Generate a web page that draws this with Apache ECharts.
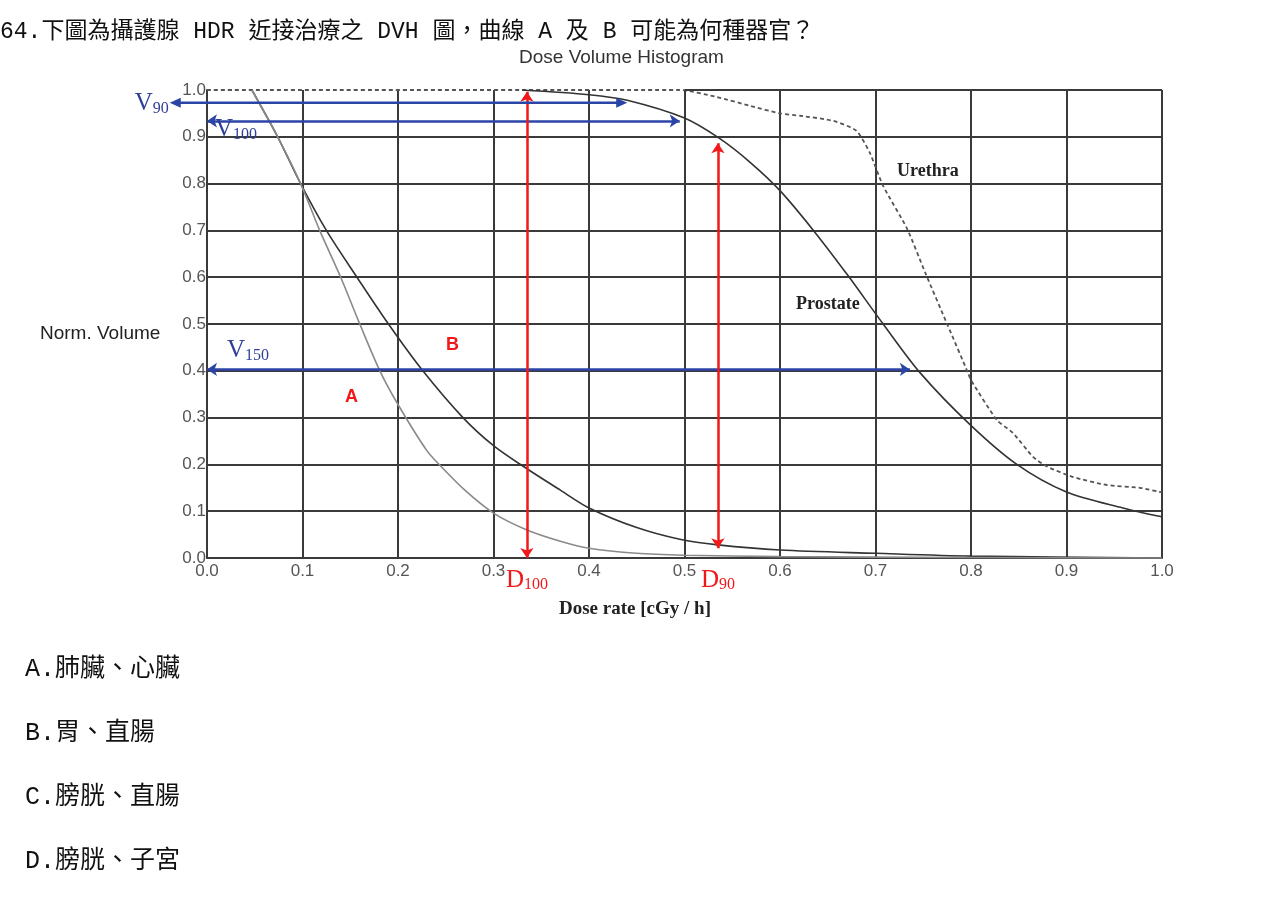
<!DOCTYPE html>
<html>
<head>
<meta charset="utf-8">
<script src="https://cdn.jsdelivr.net/npm/echarts@6/dist/echarts.min.js"></script>
<style>
  html, body { margin: 0; padding: 0; background: #fff; }
  #chart { width: 1274px; height: 898px; }
</style>
</head>
<body>
<div id="chart"></div>
<script>
// question text
const question = "64.下圖為攝護腺 HDR 近接治療之 DVH 圖，曲線 A 及 B 可能為何種器官？"
const options = ["A.肺臟、心臟", "B.胃、直腸", "C.膀胱、直腸", "D.膀胱、子宮"]

// curve A (lighter)
const doseA = [0.047, 0.074, 0.098, 0.118, 0.14, 0.16, 0.181, 0.2, 0.23, 0.244, 0.27, 0.3, 0.335, 0.37, 0.4, 0.45, 0.5, 0.6, 0.8, 1.0]
const volA = [1.0, 0.9, 0.8, 0.7, 0.6, 0.5, 0.4, 0.328, 0.23, 0.198, 0.145, 0.096, 0.06, 0.036, 0.021, 0.01, 0.006, 0.003, 0.001, 0.0]

// curve B (darker)
const doseB = [0.047, 0.074, 0.098, 0.125, 0.157, 0.19, 0.226, 0.268, 0.3, 0.331, 0.37, 0.4, 0.45, 0.495, 0.535, 0.6, 0.7, 0.8, 1.0]
const volB = [1.0, 0.9, 0.8, 0.7, 0.6, 0.5, 0.4, 0.3, 0.24, 0.196, 0.145, 0.107, 0.065, 0.04, 0.028, 0.017, 0.01, 0.004, 0.0]

// prostate
const doseP = [0.33, 0.4, 0.44, 0.5, 0.537, 0.569, 0.6, 0.635, 0.671, 0.708, 0.747, 0.799, 0.848, 0.9, 0.959, 1.0]
const volP = [1.0, 0.99, 0.978, 0.94, 0.896, 0.845, 0.785, 0.7, 0.604, 0.5, 0.395, 0.285, 0.2, 0.141, 0.107, 0.088]

// urethra (dashed)
const doseU = [0.0, 0.495, 0.534, 0.569, 0.6, 0.621, 0.656, 0.68, 0.694, 0.708, 0.733, 0.752, 0.775, 0.797, 0.8, 0.827, 0.844, 0.865, 0.88, 0.907, 0.942, 0.977, 1.0]
const volU = [1.0, 1.0, 0.985, 0.966, 0.95, 0.945, 0.934, 0.913, 0.866, 0.795, 0.704, 0.61, 0.5, 0.395, 0.38, 0.295, 0.267, 0.216, 0.195, 0.173, 0.156, 0.15, 0.14]

// annotation arrows [x1, y1, x2, y2]
const v90 = [-0.039, 0.973, 0.44, 0.973]
const v100 = [0.0, 0.934, 0.495, 0.934]
const v150 = [0.0, 0.403, 0.736, 0.403]
const d100 = [0.335, 0.0, 0.335, 0.996]
const d90 = [0.535, 0.021, 0.535, 0.886]

function zip(xs, ys) {
  return xs.map((x, i) => [x, ys[i]])
}

const cjk = "'Liberation Mono', 'Noto Sans CJK TC', sans-serif"
const blue = "#2b45a6"
const blueText = "#2e3f9a"
const red = "#f01818"
const gridColor = "#3a3a3a"

function subRich(color) {
  return {
    v: { fontFamily: "Liberation Serif", fontSize: 25, color: color, fill: color, lineHeight: 26 },
    s: { fontFamily: "Liberation Serif", fontSize: 16, color: color, fill: color, verticalAlign: "bottom", lineHeight: 26, padding: [8, 0, 0, 0] },
  }
}

function subLabel(main, sub, color, pos, dist) {
  return {
    show: true,
    position: pos,
    distance: dist,
    formatter: "{v|" + main + "}{s|" + sub + "}",
    rich: subRich(color),
  }
}

function arrow(seg, color, label) {
  return [
    { coord: [seg[0], seg[1]], lineStyle: { color: color, width: 2.5, type: "solid" }, label: label },
    { coord: [seg[2], seg[3]] },
  ]
}

const chart = echarts.init(document.getElementById("chart"))

chart.setOption({
  animation: false,
  backgroundColor: "#fff",
  title: [
    { text: question, left: 0, top: 20, padding: 0, textStyle: { fontFamily: cjk, fontSize: 23, fontWeight: "normal", color: "#111" } },
    { text: "Dose Volume Histogram", left: 519, top: 48, padding: 0, textStyle: { fontFamily: "Liberation Sans", fontSize: 19, fontWeight: "normal", color: "#333" } },
    { text: "Norm. Volume", left: 40, top: 324, padding: 0, textStyle: { fontFamily: "Liberation Sans", fontSize: 19, fontWeight: "normal", color: "#222" } },
    { text: "Dose rate [cGy / h]", left: 559, top: 600, padding: 0, textStyle: { fontFamily: "Liberation Serif", fontSize: 19, fontWeight: "bold", color: "#222" } },
    { text: "Urethra", left: 897, top: 162, padding: 0, textStyle: { fontFamily: "Liberation Serif", fontSize: 18, fontWeight: "bold", color: "#222" } },
    { text: "Prostate", left: 796, top: 295, padding: 0, textStyle: { fontFamily: "Liberation Serif", fontSize: 18, fontWeight: "bold", color: "#222" } },
    { text: "A", left: 345, top: 388, padding: 0, textStyle: { fontFamily: "Liberation Sans", fontSize: 18, fontWeight: "bold", color: red } },
    { text: "B", left: 446, top: 336, padding: 0, textStyle: { fontFamily: "Liberation Sans", fontSize: 18, fontWeight: "bold", color: red } },
    ...options.map((t, i) => ({
      text: t, left: 25, top: 657 + i * 64, padding: 0,
      textStyle: { fontFamily: cjk, fontSize: 25, fontWeight: "normal", color: "#111" },
    })),
  ],
  grid: { left: 207, right: 112, top: 90, bottom: 340 },
  xAxis: {
    type: "value",
    min: 0,
    max: 1,
    interval: 0.1,
    axisLine: { show: true, lineStyle: { color: gridColor, width: 2 } },
    axisTick: { show: false },
    axisLabel: {
      fontFamily: "Liberation Sans", fontSize: 17, color: "#555", margin: 5,
      formatter: (v) => v.toFixed(1),
    },
    splitLine: { show: true, lineStyle: { color: gridColor, width: 2 } },
  },
  yAxis: {
    type: "value",
    min: 0,
    max: 1,
    interval: 0.1,
    axisLine: { show: true, lineStyle: { color: gridColor, width: 2 } },
    axisTick: { show: false },
    axisLabel: {
      fontFamily: "Liberation Sans", fontSize: 17, color: "#555", margin: 1,
      formatter: (v) => v.toFixed(1),
    },
    splitLine: { show: true, showMaxLine: false, lineStyle: { color: gridColor, width: 2 } },
  },
  series: [
    {
      type: "line",
      name: "Urethra",
      data: zip(doseU, volU),
      showSymbol: false,
      smooth: 0.2,
      lineStyle: { color: "#555", width: 1.8, type: [4, 3] },
      z: 3,
    },
    {
      type: "line",
      name: "Prostate",
      data: zip(doseP, volP),
      showSymbol: false,
      smooth: 0.3,
      lineStyle: { color: "#333", width: 1.6 },
      z: 3,
      markLine: {
        silent: true,
        symbol: ["none", "none"],
        label: { show: false },
        data: [
          [
            { coord: [0.5, 1.0], lineStyle: { color: gridColor, width: 2, type: "solid" } },
            { coord: [1.0, 1.0] },
          ],
        ],
      },
    },
    {
      type: "line",
      name: "B",
      data: zip(doseB, volB),
      showSymbol: false,
      smooth: 0.3,
      lineStyle: { color: "#333", width: 1.6 },
      z: 3,
    },
    {
      type: "line",
      name: "A",
      data: zip(doseA, volA),
      showSymbol: false,
      smooth: 0.3,
      clip: false,
      lineStyle: { color: "#8a8a8a", width: 1.6 },
      z: 3,
      markLine: {
        silent: true,
        symbol: ["arrow", "arrow"],
        symbolSize: 10,
        data: [
          arrow(v100, blue, subLabel("V", "100", blueText, "insideStartBottom", [8, -4])),
          arrow(v150, blue, subLabel("V", "150", blueText, "insideStartTop", [20, 6])),
          arrow(d100, red, subLabel("D", "100", red, "start", [0, 9])),
          arrow(d90, red, subLabel("D", "90", red, "start", [0, 19])),
        ],
      },
    },
  ],
})

// V90 starts left of the axis: extrapolate its pixel x from the axis ends
const p0 = chart.convertToPixel({ gridIndex: 0 }, [0, v90[1]])
const p1 = chart.convertToPixel({ gridIndex: 0 }, [1, v90[1]])
const toX = (d) => p0[0] + (p1[0] - p0[0]) * d
const ax = toX(v90[0])
const bx = toX(v90[2])
const ay = p0[1]
chart.setOption({
  graphic: [
    { type: "line", z: 10, shape: { x1: ax + 8, y1: ay, x2: bx - 8, y2: ay }, style: { stroke: blue, lineWidth: 2.5 } },
    { type: "polygon", z: 10, shape: { points: [[ax, ay], [ax + 11, ay - 5], [ax + 11, ay + 5]] }, style: { fill: blue } },
    { type: "polygon", z: 10, shape: { points: [[bx, ay], [bx - 11, ay - 5], [bx - 11, ay + 5]] }, style: { fill: blue } },
    {
      type: "text", z: 10, x: ax - 1, y: ay + 1,
      style: { text: "{v|V}{s|90}", rich: subRich(blueText), fill: blueText, align: "right", verticalAlign: "middle" },
    },
  ],
})
</script>
</body>
</html>
